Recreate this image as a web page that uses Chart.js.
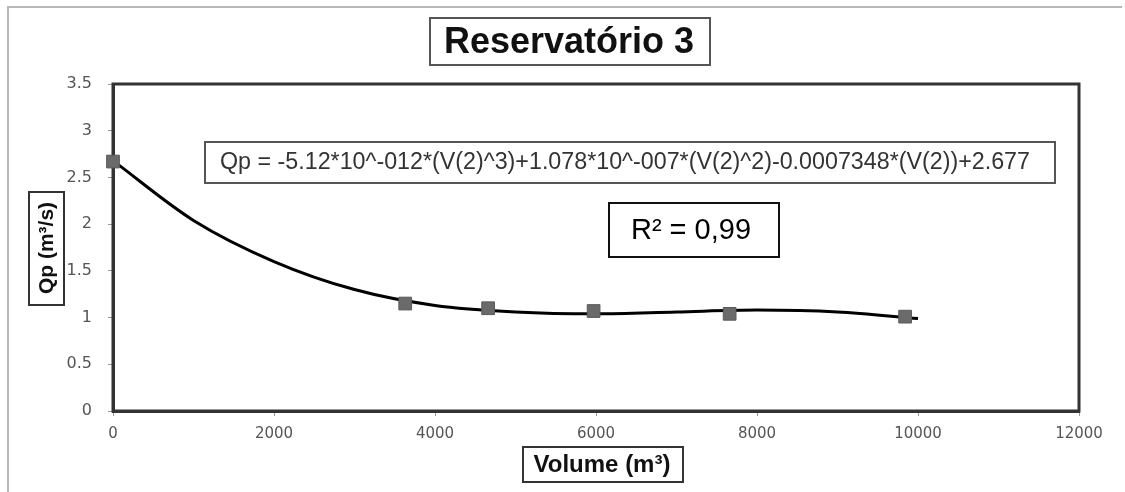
<!DOCTYPE html>
<html>
<head>
<meta charset="utf-8">
<script src="https://cdn.jsdelivr.net/npm/chart.js@4.4.1/dist/chart.umd.min.js"></script>
<style>
  html, body { margin: 0; padding: 0; background: #fff; }
  #wrap { width: 1125px; height: 492px; }
</style>
</head>
<body>
<div id="wrap"><canvas id="chart" width="1125" height="492"></canvas></div>
<script>
const volumes = [0, 3630, 4660, 5970, 7660, 9840];
const flows = [2.67, 1.15, 1.10, 1.07, 1.04, 1.01];

// the fitted curve, every 1000 m3
const trendVolumes = [0, 1000, 2000, 3000, 4000, 5000, 6000, 7000, 8000, 9000, 10000];
const trendFlows = [2.68, 2.04, 1.60, 1.30, 1.13, 1.06, 1.04, 1.06, 1.08, 1.06, 0.99];

const xTicks = [0, 2000, 4000, 6000, 8000, 10000, 12000];
const yTicks = [0, 0.5, 1, 1.5, 2, 2.5, 3, 3.5];

const chartTitle = 'Reservatório 3';
const xTitle = 'Volume (m³)';
const yTitle = 'Qp (m³/s)';
const equation = 'Qp = -5.12*10^-012*(V(2)^3)+1.078*10^-007*(V(2)^2)-0.0007348*(V(2))+2.677';
const r2Text = 'R² = 0,99';

const SANS = '"Liberation Sans", Arial, sans-serif';

function box(ctx, x, y, w, h, color, lw) {
    ctx.save();
    ctx.fillStyle = '#fff';
    ctx.fillRect(x, y, w, h);
    ctx.strokeStyle = color;
    ctx.lineWidth = lw;
    ctx.strokeRect(x, y, w, h);
    ctx.restore();
}

const decorations = {
    id: 'decorations',
    beforeDraw(chart) {
        const ctx = chart.ctx;
        ctx.save();
        ctx.fillStyle = '#fff';
        ctx.fillRect(0, 0, chart.width, chart.height);
        // outer frame (top and left visible)
        ctx.strokeStyle = '#b8b8b8';
        ctx.lineWidth = 2;
        ctx.beginPath();
        ctx.moveTo(8, 492);
        ctx.lineTo(8, 7);
        ctx.lineTo(1122, 7);
        ctx.stroke();
        ctx.restore();
    },
    beforeDatasetsDraw(chart) {
        // plot frame, under the marks
        const ctx = chart.ctx;
        const a = chart.chartArea;
        ctx.save();
        ctx.strokeStyle = '#333';
        ctx.lineWidth = 3;
        ctx.strokeRect(a.left, a.top, a.right - a.left, a.bottom - a.top);
        ctx.restore();
    },
    afterDraw(chart) {
        const ctx = chart.ctx;

        // title
        box(ctx, 430, 18, 280, 47, '#555', 2);
        ctx.save();
        ctx.fillStyle = '#111';
        ctx.font = 'bold 36px ' + SANS;
        ctx.textAlign = 'center';
        ctx.textBaseline = 'middle';
        ctx.fillText(chartTitle, 569, 43);
        ctx.restore();

        // equation
        box(ctx, 205, 142, 850, 41, '#555', 2);
        ctx.save();
        ctx.font = '20px ' + SANS;
        const w20 = ctx.measureText(equation).width;
        const size = 20 * 810 / w20;
        ctx.font = size.toFixed(2) + 'px ' + SANS;
        ctx.fillStyle = '#333';
        ctx.textAlign = 'left';
        ctx.textBaseline = 'middle';
        ctx.fillText(equation, 220, 163);
        ctx.restore();

        // R²
        box(ctx, 609, 203, 170, 54, '#111', 2);
        ctx.save();
        ctx.font = '29px ' + SANS;
        ctx.fillStyle = '#000';
        ctx.textAlign = 'center';
        ctx.textBaseline = 'middle';
        ctx.fillText(r2Text, 691, 231);
        ctx.restore();

        // x axis title
        box(ctx, 523, 447, 160, 35, '#333', 2);
        ctx.save();
        ctx.font = 'bold 24px ' + SANS;
        ctx.fillStyle = '#111';
        ctx.textAlign = 'center';
        ctx.textBaseline = 'middle';
        ctx.fillText(xTitle, 602, 465);
        ctx.restore();

        // y axis title
        box(ctx, 29, 192, 35, 113, '#333', 2);
        ctx.save();
        ctx.translate(47, 248);
        ctx.rotate(-Math.PI / 2);
        ctx.font = 'bold 21px ' + SANS;
        ctx.fillStyle = '#111';
        ctx.textAlign = 'center';
        ctx.textBaseline = 'middle';
        ctx.fillText(yTitle, 0, 0);
        ctx.restore();
    }
};

new Chart(document.getElementById('chart'), {
    type: 'scatter',
    data: {
        datasets: [{
            label: 'Qp',
            data: volumes.map((v, i) => ({ x: v, y: flows[i] })),
            showLine: false,
            clip: false,
            pointStyle: 'rect',
            pointRadius: 9,
            backgroundColor: '#6a6a6a',
            borderColor: '#5a5a5a',
            borderWidth: 1,
            order: 0
        }, {
            label: 'Ajuste',
            data: trendVolumes.map((v, i) => ({ x: v, y: trendFlows[i] })),
            showLine: true,
            clip: false,
            cubicInterpolationMode: 'monotone',
            borderColor: '#000',
            borderWidth: 3,
            pointRadius: 0,
            order: 1
        }]
    },
    options: {
        responsive: false,
        devicePixelRatio: 1,
        animation: false,
        layout: { padding: { left: 0, top: 84, right: 46, bottom: 31 } },
        plugins: {
            legend: { display: false },
            tooltip: { enabled: false },
            title: { display: false }
        },
        scales: {
            x: {
                type: 'linear',
                min: 0,
                max: 12000,
                afterBuildTicks: (scale) => { scale.ticks = xTicks.map(v => ({ value: v })); },
                afterFit: (scale) => { scale.height = 50; },
                grid: { display: true, drawOnChartArea: false, drawTicks: true, tickLength: 5, color: '#999' },
                border: { display: true, color: '#333', width: 3 },
                ticks: {
                    color: '#555',
                    padding: 9,
                    maxRotation: 0,
                    font: { family: '"DejaVu Sans"', size: 15 },
                    callback: (v) => String(v)
                }
            },
            y: {
                type: 'linear',
                min: 0,
                max: 3.5,
                afterBuildTicks: (scale) => { scale.ticks = yTicks.map(v => ({ value: v })); },
                afterFit: (scale) => { scale.width = 113; },
                grid: { display: true, drawOnChartArea: false, drawTicks: true, tickLength: 5, color: '#999' },
                border: { display: true, color: '#333', width: 3 },
                ticks: {
                    color: '#555',
                    padding: 16,
                    font: { family: '"DejaVu Sans"', size: 16 },
                    callback: (v) => String(v)
                }
            }
        }
    },
    plugins: [decorations]
});
</script>
</body>
</html>
